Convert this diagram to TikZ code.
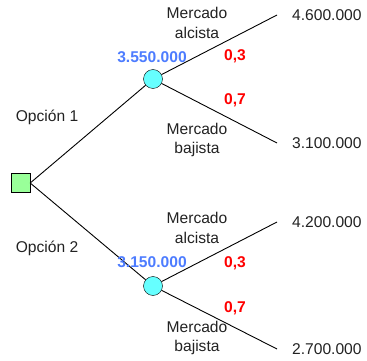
\documentclass[tikz,border=0pt]{standalone}
\usepackage{fontspec}
\setmainfont{Liberation Sans}
\usetikzlibrary{arrows.meta}
\definecolor{decgreen}{HTML}{99FF99}
\definecolor{chancecyan}{HTML}{66FFFF}
\definecolor{evblue}{HTML}{4D7CFF}
\definecolor{inktext}{HTML}{222222}

\begin{document}
\begin{tikzpicture}[x=1pt, y=-1pt,
	every node/.style={font=\fontsize{15.6}{19.5}\selectfont, text=inktext},
	decision/.style={draw, fill=decgreen, minimum size=19pt, inner sep=0pt},
	chance/.style={draw, circle, fill=chancecyan, minimum size=19pt, inner sep=0pt},
	leaf/.style={anchor=west, inner xsep=15pt, inner ysep=0pt},
	ev/.style={text=evblue, font=\fontsize{15.6}{19.5}\selectfont\bfseries},
	prob/.style={text=red, font=\fontsize{15.6}{19.5}\selectfont\bfseries},
	branch/.style={align=center},
	edge/.style={line width=0.9pt}]
	\useasboundingbox (0,0) rectangle (367,361);
	\node[decision] (d) at (20.5,183) {};
	\node[chance] (c1) at (153,79) {};
	\node[chance] (c2) at (153,286) {};
	\node[leaf] (l1) at (277,15) {4.600.000};
	\node[leaf] (l2) at (277,143) {3.100.000};
	\node[leaf] (l3) at (277,222) {4.200.000};
	\node[leaf] (l4) at (277,349) {2.700.000};
	\draw[edge] (d.east) -- (c1);
	\draw[edge] (d.east) -- (c2);
	\draw[edge] (c1) -- (l1.west);
	\draw[edge] (c1) -- (l2.west);
	\draw[edge] (c2) -- (l3.west);
	\draw[edge] (c2) -- (l4.west);
	% etiquetas
	\node (op1) at (47,117) {Opción 1};
	\node (op2) at (47,248) {Opción 2};
	\node[ev] (ev1) at (152,57) {3.550.000};
	\node[ev] (ev2) at (152,262) {3.150.000};
	\node[prob] (p1) at (235,56) {0,3};
	\node[prob] (p2) at (235,100) {0,7};
	\node[prob] (p3) at (235,263) {0,3};
	\node[prob] (p4) at (235,308) {0,7};
	\node[branch] (m1) at (197,23) {Mercado\\alcista};
	\node[branch] (m2) at (197,140) {Mercado\\bajista};
	\node[branch] (m3) at (197,228) {Mercado\\alcista};
	\node[branch] (m4) at (197,338) {Mercado\\bajista};
\end{tikzpicture}
\end{document}
